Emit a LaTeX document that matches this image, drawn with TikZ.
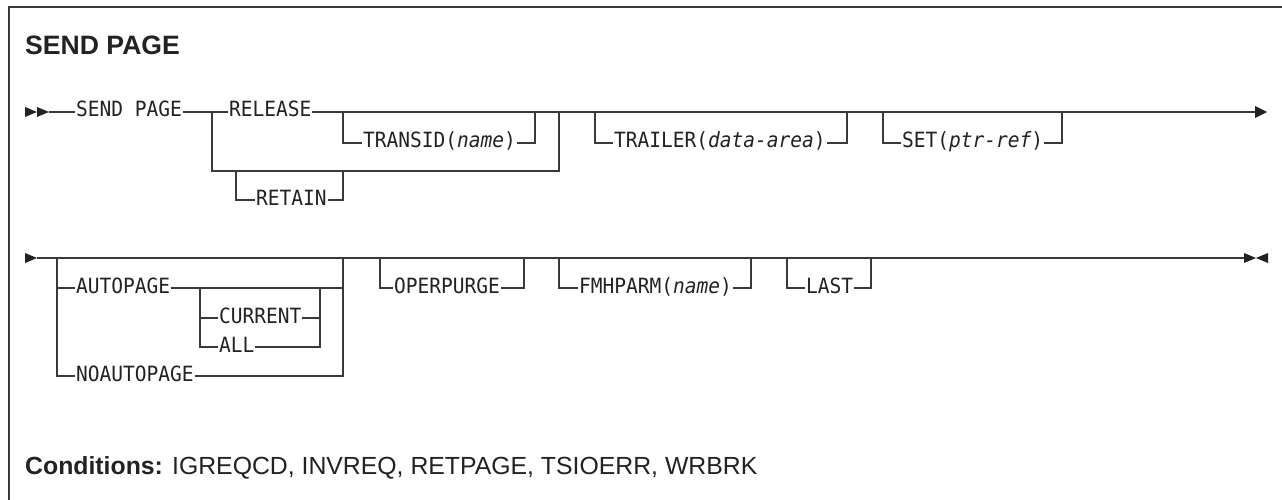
\documentclass[tikz,border=0pt]{standalone}
\usepackage{fontspec}
\setmainfont{Liberation Sans}
\newfontfamily\rrmono[FakeStretch=0.93]{DejaVu Sans Mono}
\definecolor{ink}{HTML}{222222}
\definecolor{rail}{HTML}{3A3A3A}
\tikzset{
  kw/.style={anchor=base west,inner sep=0pt,outer sep=1pt,text=ink,font=\rrmono\fontsize{21}{22}\selectfont},
  railline/.style={draw=rail,line width=1.2pt},
  tri/.style={fill=ink,draw=none},
  frameline/.style={draw=rail,line width=1.5pt},
  lw/.style={yshift=5pt}
}
\begin{document}
\begin{tikzpicture}[x=1pt,y=-1pt]
\useasboundingbox (0,0) rectangle (1282,500);
% frame
\draw[frameline] (9,500) -- (9,7) -- (1282,7);
% title
\node[anchor=base west,inner sep=0pt,text=ink,font=\fontsize{26.6}{28}\selectfont\bfseries] (title) at (25,55) {SEND PAGE};
% ---------- row 1 ----------
\node[kw] (sendpage) at (75,117) {SEND PAGE};
\node[kw] (release) at (228,117) {RELEASE};
\node[kw] (transid) at (362,148) {TRANSID(\textit{name})};
\node[kw] (retain) at (255,205) {RETAIN};
\node[kw] (trailer) at (613,148) {TRAILER(\textit{data-area})};
\node[kw] (set) at (901,148) {SET(\textit{ptr-ref})};
\coordinate (s1) at (49,112);
\coordinate (e1) at (1256,112);
\fill[tri] (25,107) -- (37,112) -- (25,117) -- cycle;
\fill[tri] (37,107) -- (49,112) -- (37,117) -- cycle;
\draw[railline] (s1) -- ([lw]sendpage.base west);
\draw[railline] ([lw]sendpage.base east) -- ([lw]release.base west);
\draw[railline] ([lw]release.base east) -- (e1);
\fill[tri] (1255,106) -- (1267,112) -- (1255,118) -- cycle;
% transid
\draw[railline] (343,112) |- ([lw]transid.base west);
\draw[railline] ([lw]transid.base east) -| (535,112);
% retain alternative
\draw[railline] (212,112) |- (559,171) -- (559,112);
\draw[railline] (236,171) |- ([lw]retain.base west);
\draw[railline] ([lw]retain.base east) -| (343,171);
% trailer
\draw[railline] (595,112) |- ([lw]trailer.base west);
\draw[railline] ([lw]trailer.base east) -| (847,112);
% set
\draw[railline] (883,112) |- ([lw]set.base west);
\draw[railline] ([lw]set.base east) -| (1062,112);
% ---------- row 2 ----------
\node[kw] (autopage) at (75,293) {AUTOPAGE};
\node[kw] (noautopage) at (75,381) {NOAUTOPAGE};
\node[kw] (current) at (218,323) {CURRENT};
\node[kw] (all) at (218,352) {ALL};
\node[kw] (operpurge) at (393,293) {OPERPURGE};
\node[kw] (fmhparm) at (578,293) {FMHPARM(\textit{name})};
\node[kw] (last) at (805,293) {LAST};
\coordinate (s2) at (37,258);
\coordinate (e2) at (1245,258);
\fill[tri] (25,253) -- (37,258) -- (25,263) -- cycle;
\draw[railline] (s2) -- (e2);
\fill[tri] (1244,253) -- (1256,258) -- (1244,263) -- cycle;
\fill[tri] (1268,253) -- (1256,258) -- (1268,263) -- cycle;
% autopage / noautopage
\draw[railline] (57,258) |- ([lw]autopage.base west);
\draw[railline] ([lw]autopage.base east) -| (343,258);
\draw[railline] (57,288) |- ([lw]noautopage.base west);
\draw[railline] ([lw]noautopage.base east) -| (343,288);
% current / all
\draw[railline] (200,288) |- ([lw]current.base west);
\draw[railline] (200,318) |- ([lw]all.base west);
\draw[railline] ([lw]current.base east) -| (320,288);
\draw[railline] ([lw]all.base east) -| (320,318);
% operpurge
\draw[railline] (380,258) |- ([lw]operpurge.base west);
\draw[railline] ([lw]operpurge.base east) -| (524,258);
% fmhparm
\draw[railline] (559,258) |- ([lw]fmhparm.base west);
\draw[railline] ([lw]fmhparm.base east) -| (751,258);
% last
\draw[railline] (787,258) |- ([lw]last.base west);
\draw[railline] ([lw]last.base east) -| (871,258);
% conditions
\node[anchor=base west,inner sep=0pt,text=ink,font=\fontsize{24.8}{27}\selectfont] (cond) at (25,474) {\textbf{Conditions:} IGREQCD, INVREQ, RETPAGE, TSIOERR, WRBRK};
\end{tikzpicture}
\end{document}
